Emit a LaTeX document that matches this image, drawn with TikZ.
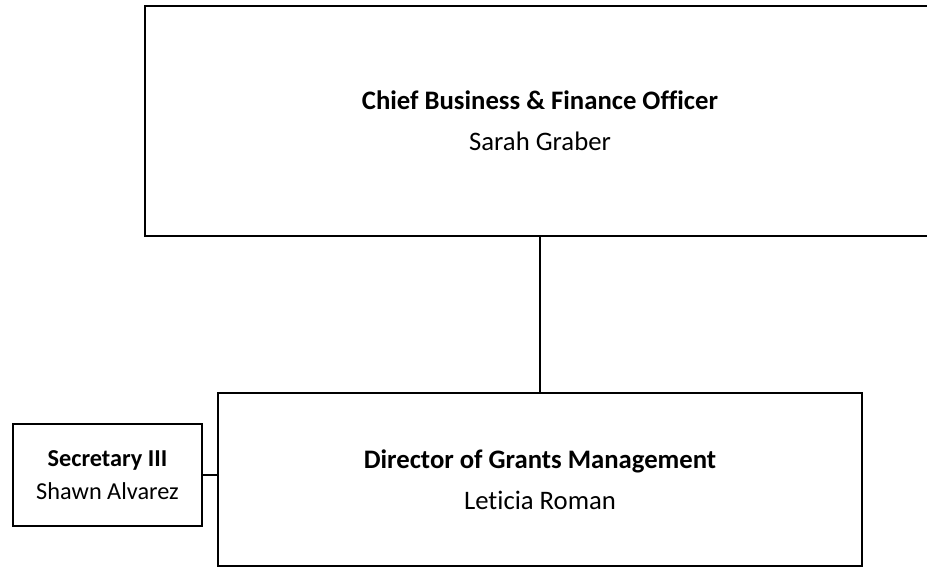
\documentclass[tikz,border=0pt]{standalone}
\usepackage{fontspec}
\setmainfont{Carlito}[Ligatures=NoCommon]
\begin{document}
\begin{tikzpicture}[x=1pt,y=-1pt]
\tikzstyle{every node}+=[inner sep=0pt]
\tikzstyle{posbox}=[draw=black, line width=2pt, fill=white, align=center, font=\fontsize{26.7}{41}\selectfont]
\tikzstyle{smallbox}=[posbox, font=\fontsize{24.3}{33}\selectfont]
\useasboundingbox (0,0) rectangle (927,568);
\clip (0,0) rectangle (927,568);
\node [posbox, minimum width=790pt, minimum height=230pt] (cbfo) at (540,121) {\textbf{Chief Business \& Finance Officer}\\Sarah Graber};
\node [posbox, minimum width=644pt, minimum height=173pt] (dgm) at (540,479.5) {\textbf{Director of Grants Management}\\Leticia Roman};
\node [smallbox, minimum width=189pt, minimum height=102pt] (sec) at (107.5,475) {\textbf{Secretary III}\\Shawn Alvarez};
\draw [black, line width=2pt] (cbfo.south) -- (cbfo.south |- dgm.north);
\draw [black, line width=2pt] (sec.east) -- (sec.east -| dgm.west);
\end{tikzpicture}
\end{document}
